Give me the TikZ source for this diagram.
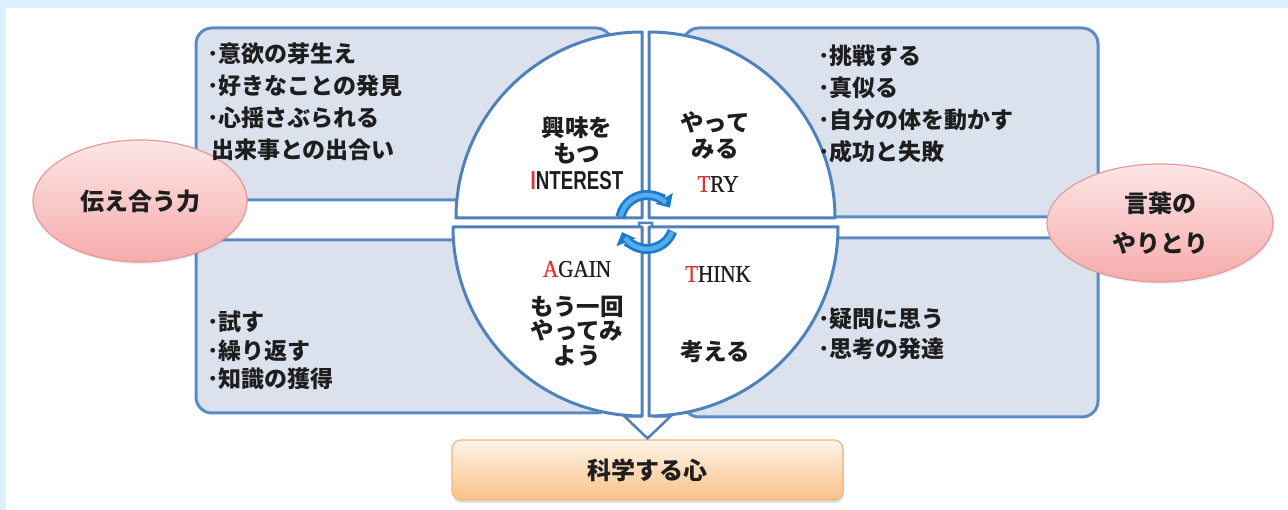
\documentclass[tikz,border=0pt]{standalone}
\usepackage{fontspec}
\setmainfont{Noto Sans CJK JP}
\newfontfamily\ensans{Liberation Sans}[FakeStretch=0.72]
\newfontfamily\enserif{Liberation Serif}[FakeStretch=0.88,FakeBold=0.6]
\usetikzlibrary{shapes.geometric,shadows,arrows.meta,calc}
\definecolor{frameblue}{HTML}{DDEFFC}
\definecolor{panelfill}{HTML}{DCE2ED}
\definecolor{panelline}{HTML}{5B8BC4}
\definecolor{quadline}{HTML}{4F81BD}
\definecolor{cycdark}{HTML}{1C7CCB}
\definecolor{cyclight}{HTML}{58ACEB}
\definecolor{pinktop}{HTML}{FDE6E6}
\definecolor{pinkbot}{HTML}{F6ABAB}
\definecolor{pinkline}{HTML}{E49A9A}
\definecolor{orangetop}{HTML}{FEF4E8}
\definecolor{orangebot}{HTML}{FAC188}
\definecolor{orangeline}{HTML}{F3B57C}
\definecolor{engred}{HTML}{E0302F}
\definecolor{txt}{HTML}{1E1E1E}
\begin{document}
\begin{tikzpicture}[x=1pt,y=-1pt,
  panel/.style={draw=panelline,fill=panelfill,line width=3pt,rounded corners=16pt},
  quad/.style={draw=quadline,fill=white,line width=3pt,line join=round},
  listtext/.style={anchor=north west,inner sep=0pt,align=left,text=txt,font=\bfseries\fontsize{23}{32}\selectfont},
  quadjp/.style={inner sep=0pt,align=center,text=txt,font=\bfseries\fontsize{23.5}{26}\selectfont},
  quaden/.style={inner sep=0pt,text=txt},
  pinkell/.style={ellipse,draw=pinkline,line width=1.2pt,top color=pinktop,bottom color=pinkbot,align=center,text=txt,font=\bfseries\fontsize{24}{40}\selectfont,drop shadow={shadow xshift=1pt,shadow yshift=-2pt,opacity=0.15}},
  scibox/.style={draw=orangeline,line width=1.2pt,rounded corners=9pt,top color=orangetop,bottom color=orangebot,text=txt,font=\bfseries\fontsize{24}{28}\selectfont,drop shadow={shadow xshift=1pt,shadow yshift=-3pt,opacity=0.25}},
  blockarrow/.style={draw=quadline,fill=white,line width=2.5pt,line join=miter},
  cycouter/.style={draw=cycdark,line width=10pt},
  cycinner/.style={draw=cyclight,line width=4.5pt}
]
\useasboundingbox (0,0) rectangle (1288,510);
\fill[frameblue] (0,0) rectangle (1288,510);
\fill[white] (6,8) rectangle (1288,510);

% panels
\draw[panel] (196,28) rectangle (612,200);
\draw[panel] (683,28) rectangle (1098,217);
\draw[panel] (196,240) rectangle (612,413);
\draw[panel] (683,238) rectangle (1098,417);

% bottom box
\node[scibox,minimum width=391pt,minimum height=60pt] (boxB) at (647.5,470) {科学する心};

% down arrow (behind the quadrants)
\coordinate (ctr) at (645.5,223);
\draw[blockarrow] ($(ctr)+(-6.5,0)$) -- ($(boxB.north)+(-6.5,-23)$) -- ($(boxB.north)+(-23,-23)$)
  -- ($(boxB.north)+(0,-1)$) -- ($(boxB.north)+(23,-23)$) -- ($(boxB.north)+(6.5,-23)$) -- ($(ctr)+(6.5,0)$) -- cycle;

% quadrants
\draw[quad] (642,218) -- (456,218) arc[start angle=180,end angle=270,radius=186] -- cycle;
\draw[quad] (649,218) -- (649,32) arc[start angle=270,end angle=360,radius=186] -- cycle;
\draw[quad] (649,227) -- (838,227) arc[start angle=0,end angle=90,radius=189] -- cycle;
\draw[quad] (642,227) -- (642,416) arc[start angle=90,end angle=180,radius=189] -- cycle;

% ellipses
\node[pinkell,minimum width=214pt,minimum height=122pt] (eL) at (140,201) {伝え合う力};
\node[pinkell,minimum width=226pt,minimum height=118pt] (eR) at (1160,223) {言葉の\\やりとり};

% list texts
\node[listtext] (tTL) at (207,43) {･意欲の芽生え\\･好きなことの発見\\･心揺さぶられる\\\hspace{4pt}出来事との出合い};
\node[listtext] (tTR) at (818,45) {･挑戦する\\･真似る\\･自分の体を動かす\\･成功と失敗};
\node[listtext,font=\bfseries\fontsize{23}{28.5}\selectfont] (tBL) at (207,311) {･試す\\･繰り返す\\･知識の獲得};
\node[listtext,font=\bfseries\fontsize{23}{30}\selectfont] (tBR) at (818,308) {･疑問に思う\\･思考の発達};

% quadrant texts
\node[quadjp] (qTLjp) at (577,140) {興味を\\もつ};
\node[quaden,font=\ensans\bfseries\fontsize{26}{28}\selectfont] (qTLen) at (577,181) {{\color{engred}I}NTEREST};
\node[quadjp] (qTRjp) at (715,135) {やって\\みる};
\node[quaden,font=\enserif\fontsize{24}{26}\selectfont] (qTRen) at (718,184) {{\color{engred}T}RY};
\node[quaden,font=\enserif\fontsize{24}{26}\selectfont] (qBLen) at (577,269) {{\color{engred}A}GAIN};
\node[quadjp,font=\bfseries\fontsize{23.5}{24.5}\selectfont] (qBLjp) at (577,331) {もう一回\\やってみ\\よう};
\node[quaden,font=\enserif\fontsize{24}{26}\selectfont] (qBRen) at (718,274) {{\color{engred}T}HINK};
\node[quadjp] (qBRjp) at (715,352) {考える};

% cycle arrows
\coordinate (cyc) at (647,222);
\draw[cycouter,-{Triangle[width=20pt,length=11pt]}] ($(cyc)+(190:27)$) arc[start angle=190,end angle=328,radius=27];
\draw[cycinner] ($(cyc)+(192:27)$) arc[start angle=192,end angle=314,radius=27];
\draw[cycouter,-{Triangle[width=20pt,length=11pt]}] ($(cyc)+(20:27)$) arc[start angle=20,end angle=158,radius=27];
\draw[cycinner] ($(cyc)+(22:27)$) arc[start angle=22,end angle=144,radius=27];
\end{tikzpicture}
\end{document}
